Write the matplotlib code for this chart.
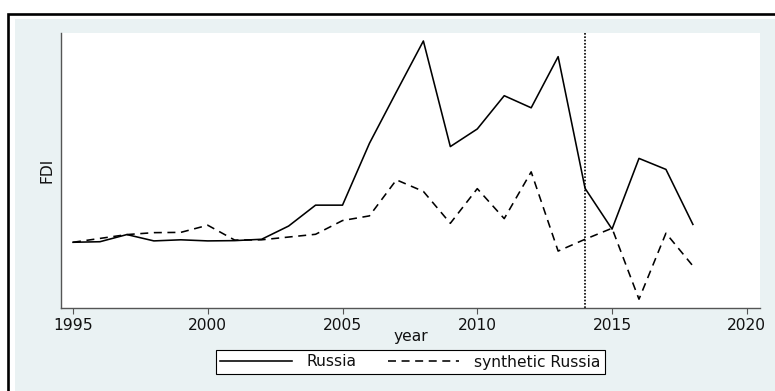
import matplotlib
matplotlib.use("Agg")
import matplotlib.pyplot as plt
from matplotlib.patches import Rectangle

# FDI inflows, actual vs. synthetic control
years = list(range(1995, 2019))
russia = [3.9, 4.1, 6.7, 4.4, 4.8, 4.4, 4.5, 5.0, 9.8, 17.4, 17.4, 39.9,
          58.6, 77.1, 38.7, 45.1, 57.2, 52.8, 71.4, 23.5, 8.7, 34.4, 30.4, 10.4]
synthetic = [3.9, 5.3, 6.7, 7.4, 7.5, 10.1, 4.7, 4.8, 5.8, 6.8, 11.8, 13.5,
             26.6, 22.4, 10.8, 23.4, 12.5, 29.5, 0.7, 5.0, 9.0, -16.8, 7.2, -4.7]
treatment_year = 2014
xticks = [1995, 2000, 2005, 2010, 2015, 2020]

W, H = 775, 391
FONT = ["DejaVu Sans"]
FS = 11.2
plt.rcParams["font.family"] = FONT
fig = plt.figure(figsize=(W / 100, H / 100), dpi=100, facecolor="white")

# graph region background and outer frame
fig.patches.append(Rectangle((15 / W, 0), 1, 1 - 19 / H, transform=fig.transFigure,
                             facecolor="#EAF2F3", edgecolor="none", zorder=-3))
fig.patches.append(Rectangle((8 / W, -0.1), 1.2, 1.1 - 14 / H, transform=fig.transFigure,
                             facecolor="none", edgecolor="black", lw=1.9, zorder=-2))

ax = fig.add_axes([61 / W, (H - 308) / H, 699 / W, 275 / H])
ax.set_zorder(1)
ax.set_facecolor("white")

ax.plot(years, russia, color="black", lw=1.15, label="Russia")
ax.plot(years, synthetic, color="black", lw=1.15, dashes=(5, 3.5), label="synthetic Russia")
ax.axvline(treatment_year, color="black", lw=1.2, linestyle=(0, (1, 1)))

ax.set_xlim(1994.555, 2020.49)
ax.set_ylim(-20, 80)
ax.set_xticks(xticks)
ax.set_xticklabels([str(x) for x in xticks], family=FONT, fontsize=FS, color="#111111")
ax.set_yticks([])
ax.tick_params(axis="x", length=4, width=0.8, color="#555555", pad=3.5)

for side in ("top", "right"):
    ax.spines[side].set_visible(False)
for side in ("left", "bottom"):
    ax.spines[side].set_color("#555555")
    ax.spines[side].set_linewidth(1.0)

ax.set_xlabel("year", family=FONT, fontsize=FS, color="#111111")
ax.xaxis.label.set_va("center")
ax.xaxis.set_label_coords(0.5, (308 - 336) / 275)
ax.set_ylabel("FDI", family=FONT, fontsize=FS, color="#111111")
ax.yaxis.label.set_va("center")
ax.yaxis.set_label_coords((47 - 61) / 699, 0.5)

handles, labels = ax.get_legend_handles_labels()
leg = fig.legend(handles, labels, loc="center", ncol=2,
                 bbox_to_anchor=(410.5 / W, 1 - 362 / H),
                 prop={"family": FONT, "size": FS}, frameon=True, fancybox=False,
                 handlelength=4.6, handletextpad=0.95, columnspacing=2.0,
                 borderpad=0.3, borderaxespad=0)
frame = leg.get_frame()
frame.set_edgecolor("black")
frame.set_linewidth(0.8)
frame.set_facecolor("white")
frame.set_alpha(1)
for t in leg.get_texts():
    t.set_color("#111111")

fig.savefig("out.png", dpi=100, facecolor="white")
